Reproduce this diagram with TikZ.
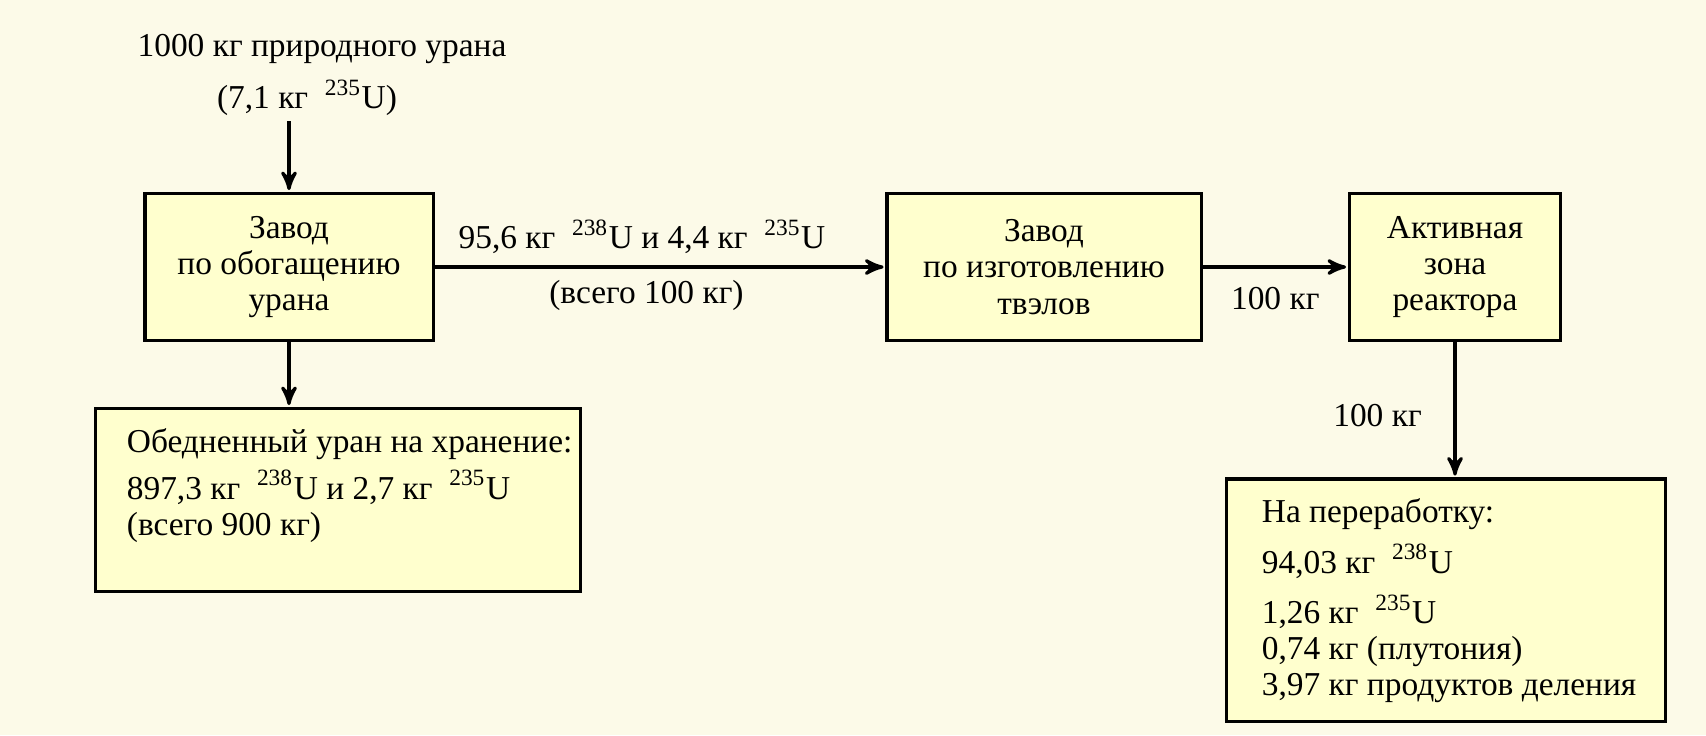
\documentclass[tikz,border=0pt]{standalone}
\usepackage{fontspec}
\setmainfont{Liberation Serif}
\usetikzlibrary{arrows,positioning}
\definecolor{paper}{RGB}{252,250,232}
\definecolor{boxfill}{RGB}{255,255,206}
\newcommand{\nucl}[1]{\enspace\textsuperscript{#1}U}

\begin{document}
\begin{tikzpicture}[x=0.01cm,y=-0.01cm,>=stealth',line width=0.9pt,
                font=\fontsize{9.5}{10.3}\selectfont,
                plant/.style={draw,fill=boxfill,align=center,minimum height=1.47cm},
                store/.style={draw,fill=boxfill},
                listing/.style={align=left,inner sep=0pt,anchor=north west},
                flow/.style={->,shorten >=0.5pt}]
            \fill[paper] (0,0) rectangle (1706,735);
            \useasboundingbox (0,0) rectangle (1706,735);
            \node [inner sep=1pt]                      (src1)     at (322,49)   {1000 кг природного урана};
            \node [inner sep=1pt]                      (src2)     at (307,98)   {(7,1 кг\nucl{235})};
            \node [plant,minimum width=2.88cm]         (enrich)   at (289,267)  {Завод\\по обогащению\\урана};
            \node [plant,minimum width=3.14cm]         (fuel)     at (1044,267) {Завод\\по изготовлению\\твэлов};
            \node [plant,minimum width=2.11cm]         (core)     at (1455,267) {Активная\\зона\\реактора};
            \node [store,minimum width=4.84cm,minimum height=1.83cm] (depleted) at (338,500)  {};
            \node [store,minimum width=4.38cm,minimum height=2.42cm] (reproc)   at (1446,600) {};
            \node [listing] (depletedtxt) at ([xshift=0.31cm,yshift=-0.2cm]depleted.north west)
                {Обедненный уран на хранение:\\[3pt]
                 897,3 кг\nucl{238} и 2,7 кг\nucl{235}\\
                 (всего 900 кг)};
            \node [listing] (reproctxt) at ([xshift=0.35cm,yshift=-0.2cm]reproc.north west)
                {На переработку:\\[4pt]
                 94,03 кг\nucl{238}\\[4pt]
                 1,26 кг\nucl{235}\\
                 0,74 кг (плутония)\\
                 3,97 кг продуктов деления};
            \path   (enrich.north |- src2.south) edge [flow] (enrich.north)
                    (enrich) edge [flow] node [above,pos=0.46] {95,6 кг\nucl{238} и 4,4 кг\nucl{235}}
                                         node [below,pos=0.47] {(всего 100 кг)} (fuel)
                    (enrich.south) edge [flow] (enrich.south |- depleted.north)
                    (fuel) edge [flow] node [below=2pt] {100 кг} (core)
                    (core.south) edge [flow] node [left=0.2cm,pos=0.54] {100 кг} (core.south |- reproc.north);
        \end{tikzpicture}
\end{document}
